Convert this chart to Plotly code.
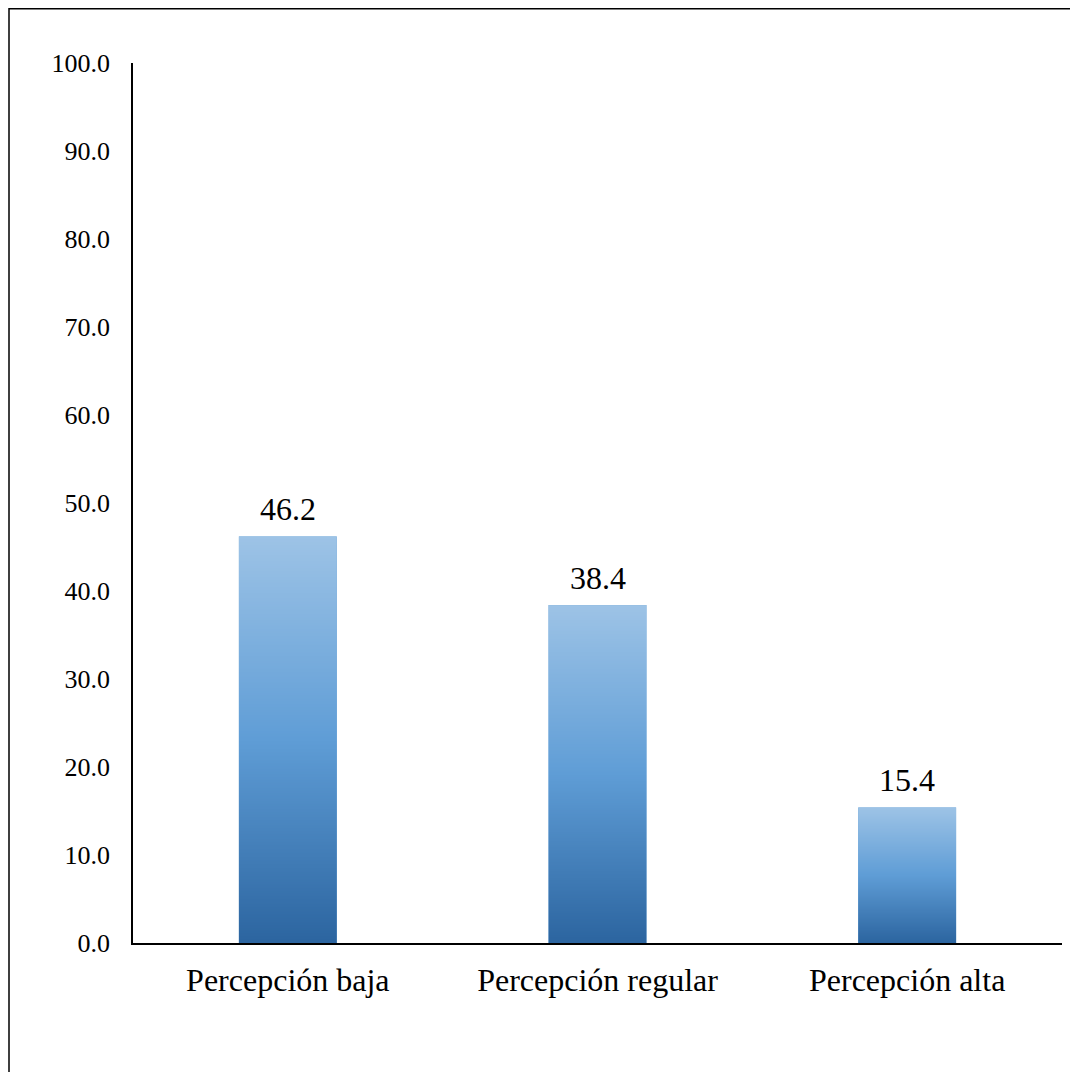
import base64
import struct
import zlib

import plotly.graph_objects as go

# ---- data ----
categories = ["Percepción baja", "Percepción regular", "Percepción alta"]
values = [46.2, 38.4, 15.4]
y_tick_values = [0, 10, 20, 30, 40, 50, 60, 70, 80, 90, 100]
y_tick_labels = ["0.0", "10.0", "20.0", "30.0", "40.0", "50.0", "60.0", "70.0", "80.0", "90.0", "100.0"]

FONT = "Liberation Serif, Times New Roman, serif"
BAR_WIDTH = 0.316

# page has an 8px body margin; plot area in page coords: x 133..1062, y 63..943
L, T, PW, PH = 125, 55, 929, 880
W, H = 1070, 1064


def gradient_png(stops, height=256):
    """Build a 1-px-wide vertical gradient PNG as a data URI."""
    rows = b""
    for i in range(height):
        t = i / (height - 1)
        for j in range(len(stops) - 1):
            p0, c0 = stops[j]
            p1, c1 = stops[j + 1]
            if p0 <= t <= p1:
                f = (t - p0) / (p1 - p0) if p1 > p0 else 0
                c = [round(c0[k] + (c1[k] - c0[k]) * f) for k in range(3)]
                break
        rows += b"\x00" + bytes(c)

    def chunk(tag, data):
        return struct.pack(">I", len(data)) + tag + data + struct.pack(">I", zlib.crc32(tag + data) & 0xFFFFFFFF)

    png = b"\x89PNG\r\n\x1a\n"
    png += chunk(b"IHDR", struct.pack(">IIBBBBB", 1, height, 8, 2, 0, 0, 0))
    png += chunk(b"IDAT", zlib.compress(rows))
    png += chunk(b"IEND", b"")
    return "data:image/png;base64," + base64.b64encode(png).decode()


grad = gradient_png([(0.0, (157, 195, 230)), (0.5, (95, 157, 214)), (1.0, (44, 101, 160))])

x_pos = list(range(len(categories)))

fig = go.Figure()
fig.add_trace(go.Bar(
    x=x_pos, y=values, width=BAR_WIDTH,
    marker=dict(color="#5B9BD5", line=dict(width=0)),
    hoverinfo="skip", showlegend=False,
))

images = []
annotations = []
for xi, v in zip(x_pos, values):
    images.append(dict(
        source=grad, xref="x", yref="y", x=xi, y=v,
        sizex=BAR_WIDTH, sizey=v, xanchor="center", yanchor="top",
        sizing="stretch", layer="above",
    ))
    annotations.append(dict(
        x=xi, y=v, xref="x", yref="y", text=f"{v:.1f}", showarrow=False,
        yanchor="bottom", yshift=7, font=dict(family=FONT, size=32, color="black"),
    ))

fig.update_layout(
    width=W, height=H,
    margin=dict(l=L, r=W - L - PW, t=T, b=H - T - PH),
    paper_bgcolor="white", plot_bgcolor="white",
    images=images, annotations=annotations,
    font=dict(family=FONT, color="black"),
    xaxis=dict(
        range=[-0.5, 2.5], tickvals=x_pos, ticktext=categories,
        showline=True, linecolor="black", linewidth=1.5,
        showgrid=False, zeroline=False, ticks="outside", ticklen=8, tickcolor="rgba(0,0,0,0)",
        tickfont=dict(family=FONT, size=32, color="black"),
    ),
    yaxis=dict(
        range=[0, 100], tickvals=y_tick_values, ticktext=y_tick_labels,
        showline=True, linecolor="black", linewidth=1.5,
        showgrid=False, zeroline=False, ticks="outside", ticklen=16, tickcolor="rgba(0,0,0,0)",
        tickfont=dict(family=FONT, size=26, color="black"),
    ),
    shapes=[dict(
        type="rect", xref="paper", yref="paper",
        x0=(1 - L) / PW, x1=1.2, y0=-0.3, y1=(T + PH - 0.75) / PH,
        line=dict(color="black", width=1.5), fillcolor="rgba(0,0,0,0)", layer="below",
    )],
)

fig.write_html("out.html")
